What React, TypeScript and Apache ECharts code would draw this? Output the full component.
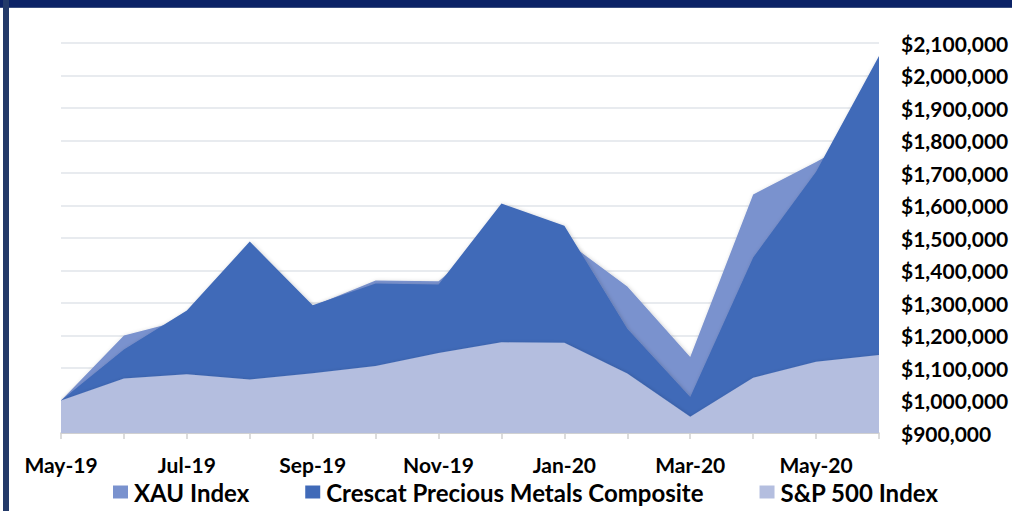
import React, { useEffect, useRef } from "react";
import * as echarts from "echarts";

const categories = [
  "May-19", "Jun-19", "Jul-19", "Aug-19", "Sep-19", "Oct-19", "Nov-19",
  "Dec-19", "Jan-20", "Feb-20", "Mar-20", "Apr-20", "May-20", "Jun-20",
];
const xauIndex = [
  1000000, 1200000, 1250000, 1420000, 1290000, 1369000, 1367000,
  1529000, 1494000, 1351000, 1134000, 1634000, 1734000, 1840000,
];
const crescatComposite = [
  1000000, 1157000, 1277000, 1489000, 1293000, 1360000, 1357000,
  1606000, 1538000, 1221000, 1011000, 1440000, 1704000, 2060000,
];
const sp500Index = [
  1000000, 1068000, 1081000, 1065000, 1084000, 1106000, 1146000,
  1179000, 1178000, 1083000, 950000, 1070000, 1119000, 1140000,
];
const yTicks = { min: 900000, max: 2100000, step: 100000 };

const FONT = "Lato, 'Open Sans', sans-serif";

export default function App() {
  const ref = useRef<HTMLDivElement>(null);
  useEffect(() => {
    document.body.style.margin = "0";
    const chart = echarts.init(ref.current!, undefined, { renderer: "svg" });
    const shadow = {
      shadowBlur: 4,
      shadowColor: "rgba(0,0,0,0.22)",
      shadowOffsetX: 1,
      shadowOffsetY: 1,
    };
    const mk = (name: string, data: number[], color: string) => ({
      name,
      type: "line",
      data,
      showSymbol: false,
      symbol: "none",
      lineStyle: { width: 0 },
      itemStyle: { color },
      areaStyle: { color, opacity: 1, ...shadow },
      z: 2,
    });
    chart.setOption({
      animation: false,
      backgroundColor: "#ffffff",
      textStyle: { fontFamily: FONT },
      grid: {
        left: 61, right: 133, top: 43, bottom: 78,
        containLabel: false,
        outerBoundsMode: "none",
      },
      legend: {
        left: 108,
        top: 475,
        itemWidth: 15,
        itemHeight: 13,
        itemGap: 56,
        icon: "rect",
        textStyle: { fontFamily: FONT, fontWeight: "bold", fontSize: 24, color: "#000", padding: [0, 0, 0, 1] },
        data: ["XAU Index", "Crescat Precious Metals Composite", "S&P 500 Index"],
      },
      xAxis: {
        type: "category",
        data: categories,
        boundaryGap: false,
        axisLine: { lineStyle: { color: "#c8c8c8", width: 1.5 } },
        axisTick: { show: true, length: 6, lineStyle: { color: "#d0d0d0", width: 1.5 }, interval: 0 },
        axisLabel: {
          interval: 1,
          margin: 21,
          fontFamily: FONT,
          fontWeight: "bold",
          fontSize: 21,
          color: "#000",
        },
        splitLine: { show: false },
      },
      yAxis: {
        type: "value",
        position: "right",
        min: yTicks.min,
        max: yTicks.max,
        interval: yTicks.step,
        axisLine: { show: false },
        axisTick: { show: false },
        axisLabel: {
          margin: 22,
          align: "left",
          fontFamily: FONT,
          fontWeight: "bold",
          fontSize: 21,
          color: "#000",
          formatter: (v: number) => "$" + v.toLocaleString("en-US"),
        },
        splitLine: { lineStyle: { color: "#e1e4ea", width: 1.5 } },
      },
      series: [
        mk("XAU Index", xauIndex, "#7a92ce"),
        mk("Crescat Precious Metals Composite", crescatComposite, "#406ab8"),
        mk("S&P 500 Index", sp500Index, "#b4bedf"),
      ],
      graphic: [
        { type: "rect", shape: { x: 0, y: 0, width: 1012, height: 7 }, style: { fill: "#0b2266" }, z: 100 },
        { type: "rect", shape: { x: 0, y: 7, width: 1012, height: 1 }, style: { fill: "#3b4f80" }, z: 100 },
        { type: "rect", shape: { x: 3, y: 0, width: 6, height: 511 }, style: { fill: "#233a69" }, z: 100 },
      ],
    });
    return () => chart.dispose();
  }, []);
  return <div ref={ref} style={{ width: 1012, height: 511 }} />;
}
